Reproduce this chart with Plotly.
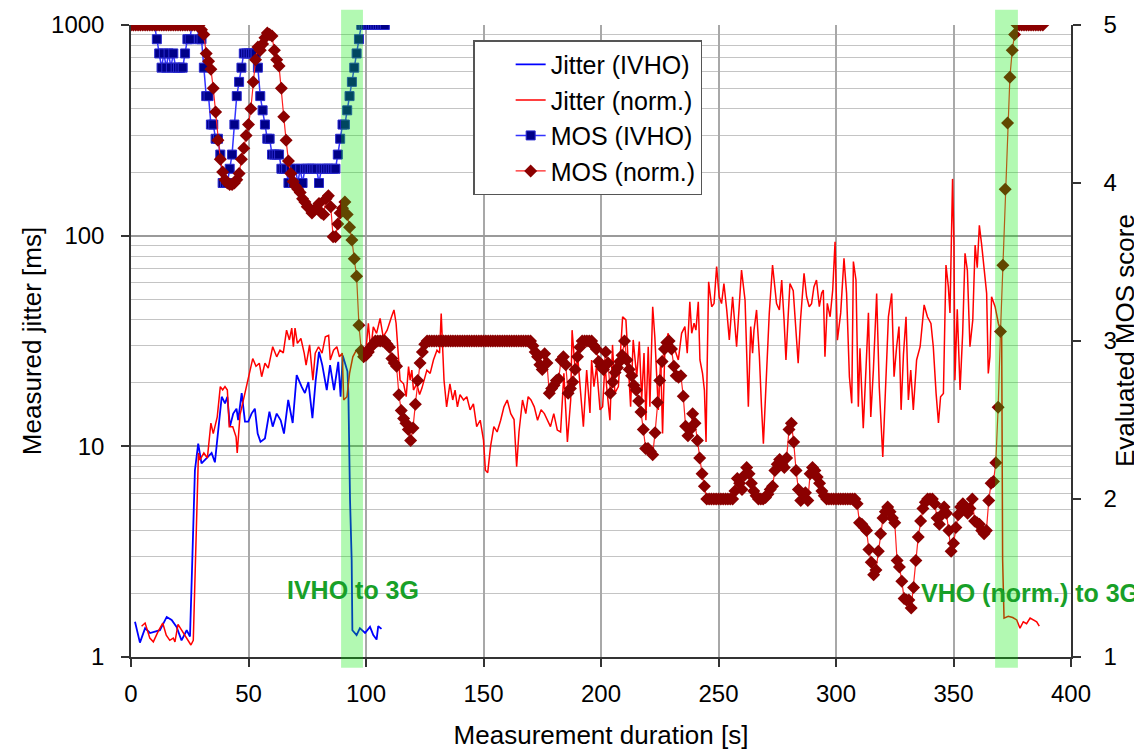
import math
import plotly.graph_objects as go

# ---------------- data ----------------
jit_ivho_t = [1.7, 3.8, 6, 8.1, 10.2, 12.3, 15.2, 17.3, 19.4, 21.5, 23.7, 25.1, 25.8, 26.5, 27.2, 28.6,
              30, 32.2, 34.3, 35.7, 37.2, 38.6, 40, 41, 42.1, 43.5, 44.9, 45.6, 47.1, 48.5, 49.9, 51.3,
              52.7, 53.9, 55.1, 57, 58.9, 60.3, 62, 63.7, 65.1, 66.9, 68.8, 70.5, 72.6, 74, 75.5, 77.2,
              78.6, 80, 81.4, 83.3, 84.7, 86.4, 88.2, 89.2, 90.1, 92.1, 92.5, 92.8, 93.2, 93.9, 94.2,
              96, 97.4, 99.6, 101.7, 103.1, 104.5, 105.2, 106.6]
jit_ivho_v = [1.47, 1.17, 1.37, 1.3, 1.32, 1.34, 1.55, 1.5, 1.39, 1.2, 1.34, 1.25, 2.25, 4.15, 7.7, 10.3,
              8.3, 8.8, 9.3, 8.4, 11.95, 17.2, 16, 17.2, 12.4, 14.3, 15.1, 13.3, 17.9, 13.1, 13.1, 14.3,
              15.1, 11.5, 10.5, 10.9, 14.6, 12.4, 14.3, 13.3, 11.5, 16.6, 12.9, 21.8, 19.2, 17.9, 20.2, 13.6,
              20.6, 28.1, 24.3, 18.5, 24.3, 18.5, 25.2, 17.2, 27, 22.7, 17.9, 10.7, 5.6, 2.89, 1.34,
              1.27, 1.37, 1.3, 1.39, 1.27, 1.21, 1.4, 1.36]

jit_norm_t = [4.5, 6, 8, 9.5, 11.5, 13.5, 15, 16.5, 18, 18.7, 20, 22, 23.5, 25.5, 26.5, 27.2, 28, 28.7,
              29.3, 31, 32.5, 34, 35, 36.7, 38, 39, 40, 41, 41.8, 43.3, 44.7, 45.2, 46.4, 47.8, 49.2,
              50.4, 51.8, 53.2, 54.6, 55.6, 57, 58.4, 60.3, 62, 63.4, 64.8, 66.2, 67.4, 68.4, 69.1, 69.8,
              70.8, 72.3, 73.7, 74.5, 76, 77.4, 78.4, 79.8, 81.3, 82.7, 84.1, 84.8, 86.2, 87.6, 88.7,
              89.9, 90.5, 91.9, 93, 94.4, 95.9, 97.5, 99.6, 101, 102, 103.1, 104.5, 106, 107.3, 109,
              110.9, 111.9, 112.8, 113.8, 114.5, 116, 117.1, 118.1, 118.8, 119.5, 120.2, 121.6, 122.8,
              123.8, 124.8, 125.9, 127.3, 128.7, 130.2, 131.3, 132, 132.6, 133.2, 134.3, 135.7, 136.9,
              137.9, 138.9, 140, 141.5, 142.9, 144.3, 145.7, 147.1, 148.6, 150, 150.8, 151.8, 153,
              154.4, 155.8, 157.3, 158.7, 160.1, 161.6, 163, 164.1, 165.1, 166.6, 168, 169, 170.2,
              171.6, 173, 174.5, 175.9, 177.1, 178.5, 179.9, 181.4, 182.8, 184.2, 185.7, 187.1, 187.7,
              189.1, 190.2, 191.5, 192.5, 193.9, 195.3, 196, 197, 198.1, 199.6, 200.7, 201.7, 202.4,
              203.8, 204.9, 205.9, 207.4, 209.2, 210.6, 211.6, 212.6, 213.7, 215.2, 216.3, 217.3,
              218.3, 219.1, 220.1, 220.8, 222, 222.9, 224.4, 225.4, 226.2, 227.2, 228.6, 230, 231.5,
              232.9, 234.3, 235.7, 236.7, 237.8, 238.6, 239.6, 240.4, 241.4, 242.1, 243.2, 244, 244.7,
              245.2, 245.8, 247.1, 248.1, 249.2, 250.3, 251.3, 252.3, 253.5, 254.6, 256, 257.7, 259.8,
              261.3, 262.7, 263.7, 264.5, 265.1, 266.2, 267.4, 268.3, 269.1, 270.5, 271.6, 273, 274.7,
              275.9, 276.9, 277.9, 278.7, 279.7, 280.4, 281.8, 282.9, 283.9, 284.9, 286.4, 287.5,
              288.6, 289.6, 290.6, 291.7, 292.9, 293.9, 294.6, 295.3, 296.3, 297.5, 298.6, 299.6,
              300.6, 302, 303.4, 304.5, 305.7, 306.7, 307.4, 308.5, 309.5, 310.2, 311.6, 312.8, 313.8,
              314.8, 315.9, 317.3, 318.4, 319.9, 321, 322.3, 323.7, 324.7, 325.8, 326.8, 327.7, 328.7,
              329.8, 330.8, 331.8, 332.9, 334.3, 335.8, 337.5, 338.9, 340.4, 341.4, 342.6, 343.6,
              344.5, 345.7, 346.8, 347.8, 348.5, 349.6, 350.2, 350.6, 351.6, 352.8, 353.9, 354.9,
              355.9, 357, 358.2, 359.2, 360.1, 361, 362, 363, 364.1, 364.8, 365.5, 366.2, 367.7,
              369.1, 370.5, 370.9, 371.5, 373.3, 375.2, 376.9, 378.3, 379.7, 381.1, 382.6, 384,
              385.4, 386.5]
jit_norm_v = [1.4, 1.45, 1.23, 1.18, 1.32, 1.45, 1.27, 1.2, 1.23, 1.18, 1.43, 1.32, 1.25, 1.14, 1.2, 2.4,
              5.6, 9.3, 8.6, 9.3, 8.8, 12.9, 11.5, 13.8, 19.2, 18.5, 19.2, 18.5, 12.4, 12.4, 11.1, 9.3,
              14.1, 16.6, 19.9, 23, 26.1, 24, 24.8, 21.4, 24.8, 23.5, 29.7, 26.6, 28.6, 27.8, 35.6, 32,
              36.4, 29.7, 36.4, 30.8, 32.5, 27.7, 24.3, 30.3, 20.6, 27.7, 29.7, 27.7, 33.1, 33.6, 25.7,
              28.6, 29.7, 26.6, 27.7, 16.6, 17.2, 22.2, 26.6, 28.6, 26.6, 25.7, 38.4, 28.6, 36.9, 34.4,
              40.5, 33.1, 35.6, 41.3, 44.4, 38.4, 27.7, 20.6, 19.8, 17.2, 23.9, 20.6, 23, 18.5, 19.8,
              17.6, 18.9, 20.6, 23, 22.2, 25.7, 28.6, 27.7, 42.7, 28.6, 20.6, 15.4, 19.8, 16.6, 18.5,
              15.4, 17.6, 16.6, 17.2, 14.9, 15.9, 12.4, 13.3, 10.7, 7.7, 7.5, 10, 12.4, 11.7, 13.3,
              15.4, 16.6, 14.3, 13.4, 8, 11.7, 16.6, 14.3, 17.2, 16.6, 15.4, 13.3, 14.9, 14.3, 13.3,
              12.4, 14.3, 11.95, 11.7, 22.2, 10.5, 16.6, 35.6, 22.2, 25.7, 16, 12.4, 23, 14.4, 25.7,
              19.2, 23.9, 14.9, 15.4, 24.8, 19.2, 13.3, 30.3, 17.9, 19.2, 41.2, 39.8, 23.9, 15.4, 32,
              21.4, 31.4, 16.6, 27.7, 13.3, 29.7, 15.4, 46, 33.1, 14.9, 25.7, 11.5, 29.7, 34.4, 27.7,
              28.6, 25.7, 34.4, 37, 27.7, 48.5, 34.4, 38.4, 35.6, 48.5, 25.7, 22.2, 18.5, 10.5, 24.8,
              60.4, 46, 47.6, 71.3, 51.3, 47.6, 59.3, 44.4, 32, 51.3, 29.7, 68.7, 49.3, 15.4, 37, 27.7,
              35.6, 44.4, 26.6, 15.4, 10.3, 23, 42.7, 72.6, 47.6, 44.4, 61.6, 39.8, 25.7, 42.7, 59.3,
              54.8, 37, 24.8, 39.8, 66.3, 51.3, 46, 47.6, 57.1, 61.6, 46, 53.4, 55.2, 26.6, 47.7, 41.2,
              55.2, 93.6, 31.9, 43, 78, 53.2, 21.4, 16, 75.3, 61.6, 15.4, 29.2, 12.2, 23.9, 43, 13.8,
              23, 53.2, 19.2, 8.9, 17.8, 41.2, 53.2, 21.4, 29.7, 37, 14.9, 27.2, 41.2, 16.6, 23, 14.9,
              25.7, 29.7, 46.9, 41.2, 38.3, 29.7, 17.8, 12.9, 17.2, 17.8, 72.6, 57.3, 43, 186, 91.9,
              20.6, 44.7, 18.5, 34.4, 82.4, 68.5, 29.7, 39.8, 90.2, 70.4, 112, 90.2, 68.5, 53.2, 22.2,
              26.6, 51.3, 46, 38.3, 34.4, 2.9, 1.53, 1.56, 1.54, 1.5, 1.37, 1.47, 1.44, 1.53, 1.5,
              1.47, 1.4]

mos_ivho_t = list(range(0, 109))
mos_ivho = [5, 5, 5, 5, 5, 5, 5, 5, 5, 5,
            5, 4.91, 4.82, 4.73, 4.82, 4.73, 4.82, 4.73, 4.82, 4.73,
            4.73, 4.73, 4.73, 4.82, 4.91, 4.91, 5, 5, 5, 4.91,
            4.91, 4.73, 4.55, 4.55, 4.37, 4.37, 4.28, 4.28, 4.18, 4.0,
            4.0, 4.0, 4.09, 4.18, 4.37, 4.55, 4.64, 4.73, 4.82, 4.82,
            4.82, 4.82, 4.82, 4.82, 4.73, 4.55, 4.46, 4.37, 4.28, 4.28,
            4.18, 4.18, 4.18, 4.18, 4.09, 4.09, 4.09, 4.0, 4.09, 4.0,
            4.09, 4.0, 4.09, 4.0, 4.09, 4.09, 4.09, 4.09, 4.09, 4.09,
            4.0, 4.09, 4.09, 4.09, 4.09, 4.09, 4.09, 4.09, 4.18, 4.28,
            4.37, 4.37, 4.46, 4.55, 4.64, 4.73, 4.82, 4.91, 5, 5,
            5, 5, 5, 5, 5, 5, 5, 5, 5]

mos_norm_t = list(range(0, 389))
mos_norm = [5, 5, 5, 5, 5, 5, 5, 5, 5, 5,
            5, 5, 5, 5, 5, 5, 5, 5, 5, 5,
            5, 5, 5, 5, 5, 5, 5, 5, 5, 5,
            4.97, 4.94, 4.82, 4.77, 4.72, 4.6, 4.45, 4.27, 4.15, 4.07,
            4.02, 4.0, 3.99, 3.99, 4.0, 4.02, 4.06, 4.15, 4.22, 4.3,
            4.37, 4.47, 4.64, 4.78, 4.86, 4.84, 4.88, 4.92, 4.95, 4.94,
            4.93, 4.84, 4.78, 4.74, 4.6, 4.42, 4.27, 4.14, 4.06, 4.01,
            3.98, 3.96, 3.94, 3.9, 3.88, 3.85, 3.84, 3.81, 3.83, 3.84,
            3.87, 3.81, 3.8, 3.9, 3.92, 3.85, 3.66, 3.66, 3.74, 3.81,
            3.84, 3.88, 3.8, 3.72, 3.64, 3.52, 3.41, 3.1, 2.94, 2.9,
            2.91, 2.93, 2.96, 2.98, 3, 3, 3, 3, 3, 2.98,
            2.96, 2.89, 2.86, 2.84, 2.66, 2.56, 2.51, 2.48, 2.44, 2.37,
            2.45, 2.6, 2.75, 2.86, 2.93, 2.98, 3, 3, 3, 3,
            3, 3, 3, 3, 3, 3, 3, 3, 3, 3,
            3, 3, 3, 3, 3, 3, 3, 3, 3, 3,
            3, 3, 3, 3, 3, 3, 3, 3, 3, 3,
            3, 3, 3, 3, 3, 3, 3, 3, 3, 3,
            3, 2.97, 2.93, 2.9, 2.85, 2.82, 2.92, 2.86, 2.67, 2.7,
            2.72, 2.75, 2.76, 2.88, 2.9, 2.85, 2.67, 2.7, 2.74, 2.82,
            2.9, 2.96, 3, 3, 3, 3, 3, 2.97, 2.95, 2.87,
            2.84, 2.82, 2.93, 2.86, 2.67, 2.74, 2.8, 2.83, 2.87, 2.91,
            3, 2.88, 2.82, 2.78, 2.72, 2.69, 2.62, 2.55, 2.44, 2.32,
            2.32, 2.3, 2.28, 2.42, 2.61, 2.75, 2.87, 2.95, 2.99, 3,
            2.95, 2.84, 2.78, 2.77, 2.78, 2.65, 2.46, 2.4, 2.44, 2.54,
            2.48, 2.37, 2.26, 2.16, 2.08, 2, 2, 2, 2, 2,
            2, 2, 2, 2, 2, 2, 2, 2.05, 2.13, 2.1,
            2.06, 2.15, 2.2, 2.16, 2.1, 2.05, 2.02, 2, 2, 2,
            2.01, 2.03, 2.06, 2.08, 2.18, 2.22, 2.25, 2.22, 2.2, 2.26,
            2.44, 2.48, 2.36, 2.18, 2.06, 1.99, 2.03, 2.04, 1.99, 2.16,
            2.2, 2.18, 2.14, 2.1, 2.05, 2.02, 2, 2, 2, 2,
            2, 2, 2, 2, 2, 2, 2, 2, 2, 1.97,
            1.85, 1.84, 1.82, 1.8, 1.68, 1.6, 1.52, 1.55, 1.67, 1.78,
            1.88, 1.92, 1.95, 1.92, 1.88, 1.85, 1.61, 1.57, 1.48, 1.37,
            1.36, 1.36, 1.31, 1.44, 1.61, 1.76, 1.86, 1.94, 1.98, 2,
            2, 2, 1.97, 1.88, 1.84, 1.9, 1.95, 1.91, 1.8, 1.67,
            1.72, 1.82, 1.9, 1.95, 1.97, 1.93, 1.91, 1.94, 2, 1.86,
            1.85, 1.84, 1.8, 1.78, 1.8, 1.99, 2.1, 2.11, 2.23, 2.58,
            3.06, 3.48, 3.96, 4.38, 4.67, 4.84, 4.94, 5, 5, 5,
            5, 5, 5, 5, 5, 5, 5, 5, 5]

handover_bands = [(89.4, 98.7), (367.7, 377.4)]
handover_labels = ["IVHO to 3G", "VHO (norm.) to 3G"]
label_pos = [(94.3, 2.08), (382.6, 2.02)]

x_ticks = [0, 50, 100, 150, 200, 250, 300, 350, 400]
jitter_ticks = [1, 10, 100, 1000]
mos_ticks = [1, 2, 3, 4, 5]

# ---------------- figure ----------------
FONT = "Liberation Sans, Arial, sans-serif"
fig = go.Figure()

fig.add_trace(go.Scatter(x=jit_ivho_t, y=jit_ivho_v, name="Jitter (IVHO)", mode="lines",
                         line=dict(color="#0000ff", width=1.8)))
fig.add_trace(go.Scatter(x=jit_norm_t, y=jit_norm_v, name="Jitter (norm.)", mode="lines",
                         line=dict(color="#ff0000", width=1.5)))
fig.add_trace(go.Scatter(x=mos_ivho_t, y=mos_ivho, name="MOS (IVHO)", mode="lines+markers",
                         yaxis="y2", line=dict(color="#3333ff", width=1.5),
                         marker=dict(symbol="square", size=9, color="#000088",
                                     line=dict(color="#2a2ad0", width=1))))
fig.add_trace(go.Scatter(x=mos_norm_t, y=mos_norm, name="MOS (norm.)", mode="lines+markers",
                         yaxis="y2", line=dict(color="#ff2020", width=1.2),
                         marker=dict(symbol="diamond", size=10, color="#8b0000",
                                     line=dict(width=0))))

shapes = []
for x0, x1 in handover_bands:
    shapes.append(dict(type="rect", xref="x", yref="paper", x0=x0, x1=x1, y0=-0.017, y1=1.024,
                       fillcolor="rgb(0,235,0)", opacity=0.3, line=dict(width=0), layer="above"))

annotations = []
for txt, (ax, ay) in zip(handover_labels, label_pos):
    annotations.append(dict(x=ax, y=math.log10(ay), xref="x", yref="y", text=txt,
                            showarrow=False,
                            font=dict(family=FONT, size=25, color="#18a028", weight="bold"),
                            xanchor="center", yanchor="middle"))
# right-hand axis title
annotations.append(dict(x=1, y=0.5, xref="paper", yref="paper", text="Evaluated MOS score",
                        textangle=-90, showarrow=False, xanchor="center", yanchor="middle",
                        xshift=54, font=dict(family=FONT, size=26, color="black")))

# the page body adds an 8 px offset; figure size and margins account for it
fig.update_layout(
    width=1134, height=742, autosize=False,
    margin=dict(l=123, r=71, t=17, b=93),
    paper_bgcolor="white", plot_bgcolor="white",
    font=dict(family=FONT, size=24, color="black"),
    shapes=shapes, annotations=annotations,
    legend=dict(x=0.364, y=0.976, xanchor="left", yanchor="top",
                bgcolor="white", bordercolor="#555555", borderwidth=1.5,
                font=dict(family=FONT, size=25), itemwidth=30, tracegroupgap=0,
                indentation=36),
    xaxis=dict(range=[0, 400], tickvals=x_ticks, ticks="outside", ticklen=8, tickwidth=1.5,
               tickcolor="#333", showline=True, linecolor="#333", linewidth=1.5,
               showgrid=True, gridcolor="#a8a8a8", gridwidth=1.5, zeroline=False,
               title=dict(text="Measurement duration [s]", font=dict(size=26), standoff=20),
               ticklabelstandoff=6, automargin=False),
    yaxis=dict(type="log", range=[0, 3], tickvals=jitter_ticks, ticktext=[str(v) for v in jitter_ticks],
               ticks="outside", ticklen=8, tickwidth=1.5, tickcolor="#333",
               showline=True, linecolor="#333", linewidth=1.5,
               showgrid=True, gridcolor="#9a9a9a", gridwidth=1.6, zeroline=False,
               minor=dict(dtick="D1", showgrid=True, gridcolor="#c4c4c4", gridwidth=1.4, ticks=""),
               title=dict(text="Measured jitter [ms]", font=dict(size=26), standoff=2),
               ticklabelstandoff=12, automargin=False),
    yaxis2=dict(overlaying="y", side="right", range=[1, 5], tickvals=mos_ticks,
                ticks="outside", ticklen=8, tickwidth=1.5, tickcolor="#333",
                showline=True, linecolor="#333", linewidth=1.5, showgrid=False, zeroline=False,
                ticklabelstandoff=18, automargin=False),
)

fig.write_html("out.html")
